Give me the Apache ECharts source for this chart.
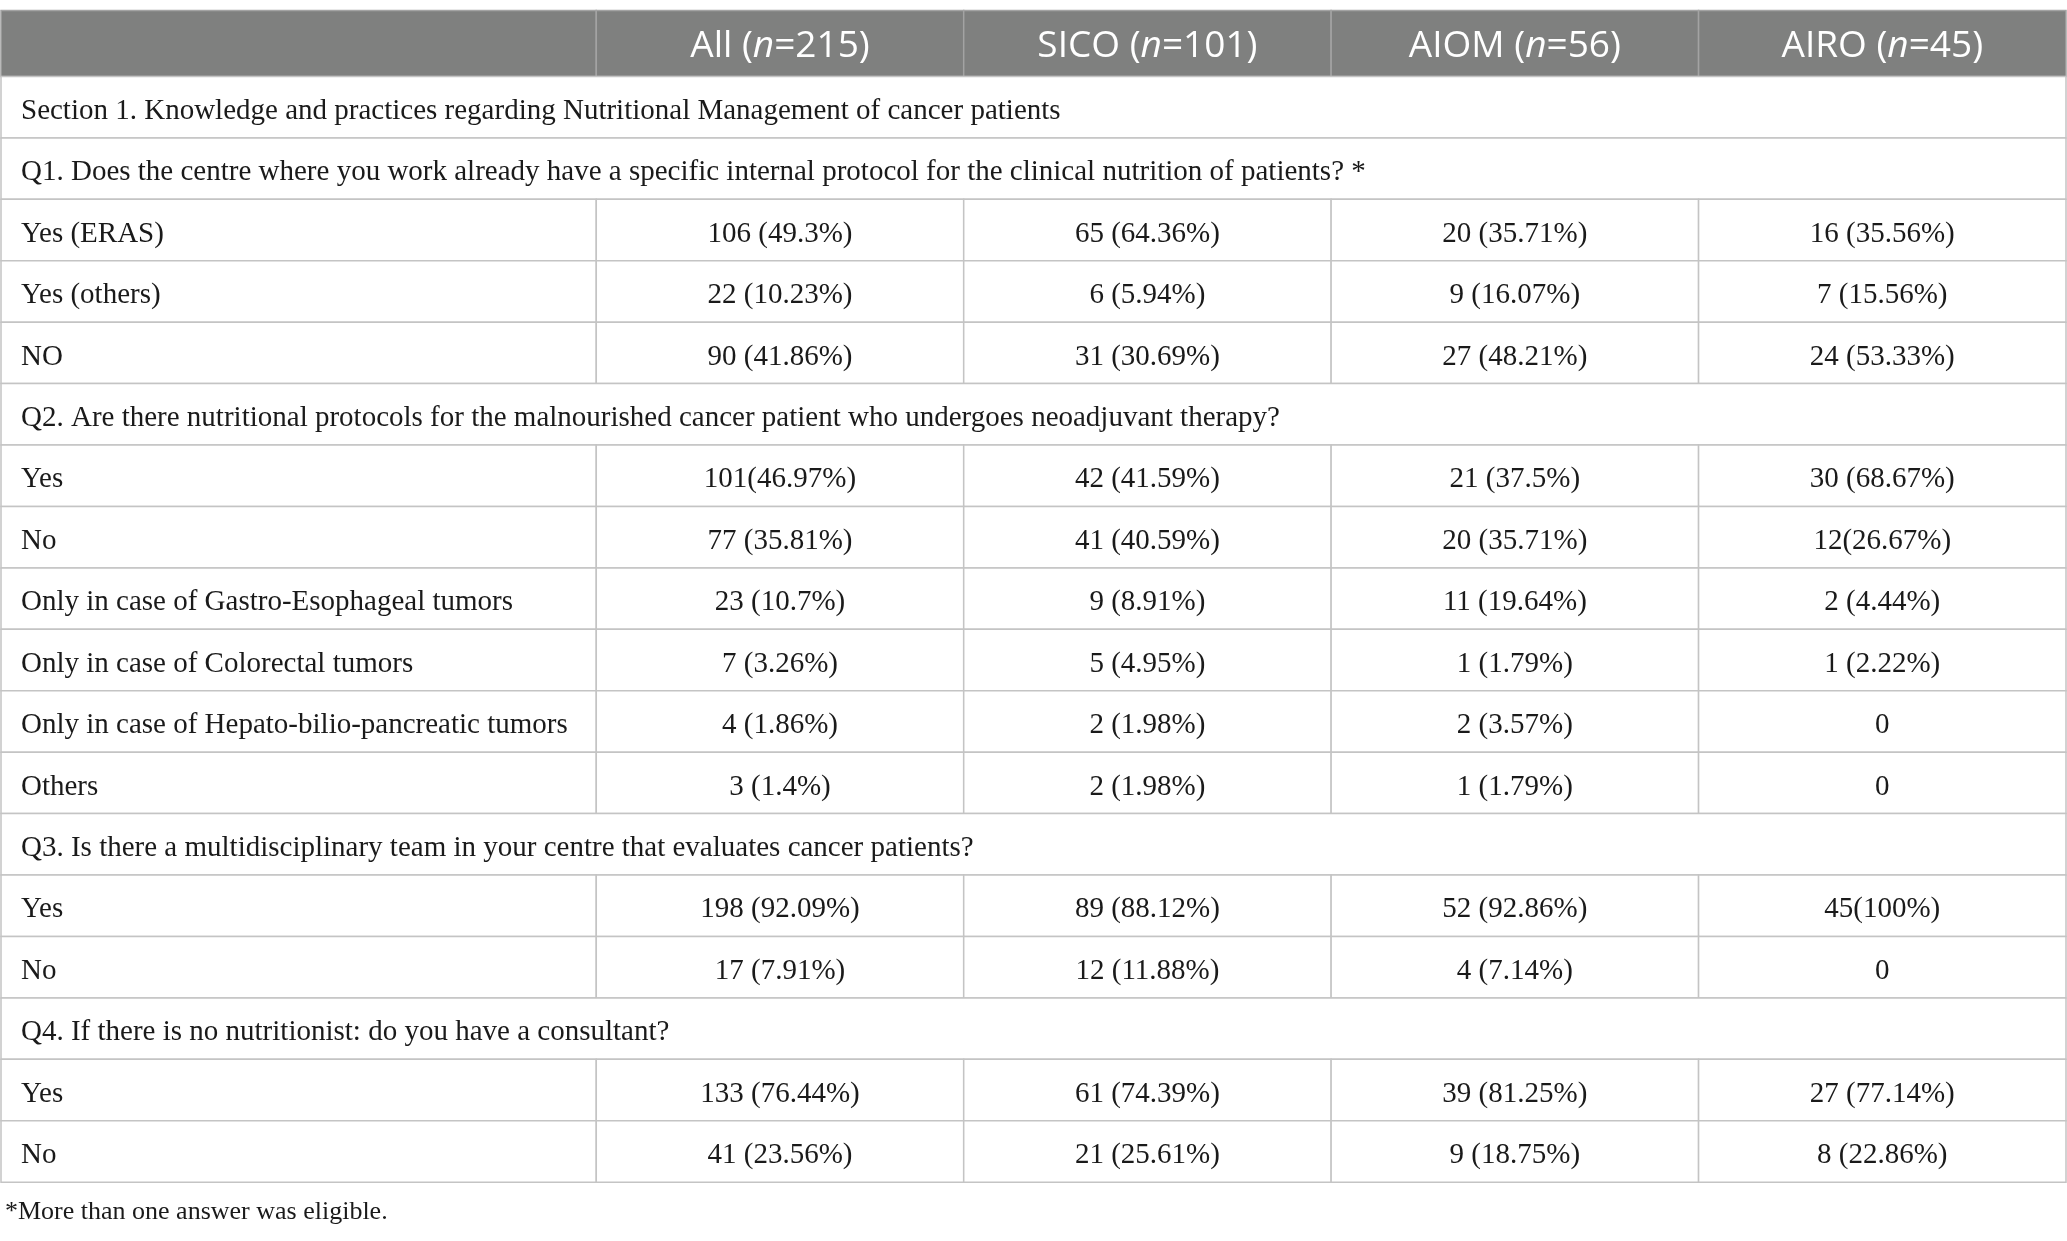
<!DOCTYPE html>
<html>
<head>
<meta charset="utf-8">
<script src="https://cdn.jsdelivr.net/npm/echarts@6/dist/echarts.min.js"></script>
<style>
html, body { margin: 0; padding: 0; background: #fff; }
#chart { width: 2067px; height: 1241px; }
</style>
</head>
<body>
<div id="chart"></div>
<script>
var headerLabels = ['', 'All ({i|n}=215)', 'SICO ({i|n}=101)', 'AIOM ({i|n}=56)', 'AIRO ({i|n}=45)'];

var rowLabels = [
    'Section 1. Knowledge and practices regarding Nutritional Management of cancer patients',
    'Q1. Does the centre where you work already have a specific internal protocol for the clinical nutrition of patients? *',
    'Yes (ERAS)',
    'Yes (others)',
    'NO',
    'Q2. Are there nutritional protocols for the malnourished cancer patient who undergoes neoadjuvant therapy?',
    'Yes',
    'No',
    'Only in case of Gastro-Esophageal tumors',
    'Only in case of Colorectal tumors',
    'Only in case of Hepato-bilio-pancreatic tumors',
    'Others',
    'Q3. Is there a multidisciplinary team in your centre that evaluates cancer patients?',
    'Yes',
    'No',
    'Q4. If there is no nutritionist: do you have a consultant?',
    'Yes',
    'No'
];

var allCol = [null, null, '106 (49.3%)', '22 (10.23%)', '90 (41.86%)', null, '101(46.97%)', '77 (35.81%)',
    '23 (10.7%)', '7 (3.26%)', '4 (1.86%)', '3 (1.4%)', null, '198 (92.09%)', '17 (7.91%)', null,
    '133 (76.44%)', '41 (23.56%)'];
var sicoCol = [null, null, '65 (64.36%)', '6 (5.94%)', '31 (30.69%)', null, '42 (41.59%)', '41 (40.59%)',
    '9 (8.91%)', '5 (4.95%)', '2 (1.98%)', '2 (1.98%)', null, '89 (88.12%)', '12 (11.88%)', null,
    '61 (74.39%)', '21 (25.61%)'];
var aiomCol = [null, null, '20 (35.71%)', '9 (16.07%)', '27 (48.21%)', null, '21 (37.5%)', '20 (35.71%)',
    '11 (19.64%)', '1 (1.79%)', '2 (3.57%)', '1 (1.79%)', null, '52 (92.86%)', '4 (7.14%)', null,
    '39 (81.25%)', '9 (18.75%)'];
var airoCol = [null, null, '16 (35.56%)', '7 (15.56%)', '24 (53.33%)', null, '30 (68.67%)', '12(26.67%)',
    '2 (4.44%)', '1 (2.22%)', '0', '0', null, '45(100%)', '0', null,
    '27 (77.14%)', '8 (22.86%)'];

var footnote = '*More than one answer was eligible.';

// layout in reference units (table is 1568 wide)
var colEdges = [0, 452, 731, 1010, 1289, 1568];
var HEADER_H = 50;
var ROW_H = 46.6;
var TABLE_H = HEADER_H + rowLabels.length * ROW_H;
var S = 2067 / 1568;

var SERIF = '"Liberation Serif", "DejaVu Serif", serif';
var SANS = '"Open Sans", "Noto Sans", sans-serif';
var HEAD_SIZE = 37;
var BODY_SIZE = 29;

var cells = [];
var cols = [allCol, sicoCol, aiomCol, airoCol];
for (var c = 0; c < headerLabels.length; c++) {
    cells.push({ value: [c, -1, 1], text: headerLabels[c], kind: 'header' });
}
for (var r = 0; r < rowLabels.length; r++) {
    if (allCol[r] === null) {
        cells.push({ value: [0, r, 5], text: rowLabels[r], kind: 'span' });
    } else {
        cells.push({ value: [0, r, 1], text: rowLabels[r], kind: 'label' });
        for (var k = 0; k < cols.length; k++) {
            cells.push({ value: [k + 1, r, 1], text: cols[k][r], kind: 'value' });
        }
    }
}

function renderCell(params, api) {
    var cell = cells[params.dataIndex];
    var c = api.value(0), r = api.value(1), span = api.value(2);
    var y0 = r < 0 ? 0 : HEADER_H + r * ROW_H;
    var y1 = r < 0 ? HEADER_H : y0 + ROW_H;
    var p0 = api.coord([colEdges[c], y0]);
    var p1 = api.coord([colEdges[c + span], y1]);
    var isHeader = cell.kind === 'header';
    var rect = {
        type: 'rect',
        shape: { x: p0[0], y: p0[1], width: p1[0] - p0[0], height: p1[1] - p0[1] },
        style: {
            fill: isHeader ? '#7f807f' : '#fff',
            stroke: isHeader ? '#a3a3a3' : '#c4c4c4',
            lineWidth: 1.5
        }
    };
    var centered = cell.kind === 'header' || cell.kind === 'value';
    var text = {
        type: 'text',
        z2: 10,
        style: {
            text: cell.text,
            x: centered ? (p0[0] + p1[0]) / 2 : p0[0] + 20,
            y: (p0[1] + p1[1]) / 2 + (isHeader ? 3 : 4),
            align: centered ? 'center' : 'left',
            verticalAlign: 'middle',
            fontFamily: isHeader ? SANS : SERIF,
            fontSize: isHeader ? HEAD_SIZE : BODY_SIZE,
            fill: isHeader ? '#ffffff' : '#1a1a1a',
            rich: {
                i: { fontStyle: 'italic', fontFamily: SANS, fontSize: HEAD_SIZE, fill: '#ffffff' }
            }
        }
    };
    return { type: 'group', children: [rect, text] };
}

var chart = echarts.init(document.getElementById('chart'), null, { renderer: 'canvas' });
chart.setOption({
    animation: false,
    backgroundColor: '#fff',
    title: {
        text: footnote,
        left: 0,
        top: 1194,
        textStyle: { fontFamily: SERIF, fontSize: 26, fontWeight: 'normal', color: '#1a1a1a' }
    },
    grid: { left: 1, right: 1, top: 8 * S, height: TABLE_H * S },
    xAxis: { type: 'value', min: 0, max: colEdges[colEdges.length - 1], show: false },
    yAxis: { type: 'value', min: 0, max: TABLE_H, inverse: true, show: false },
    series: [{
        type: 'custom',
        renderItem: renderCell,
        data: cells,
        encode: { x: 0, y: 1 },
        clip: false
    }]
});
</script>
</body>
</html>
